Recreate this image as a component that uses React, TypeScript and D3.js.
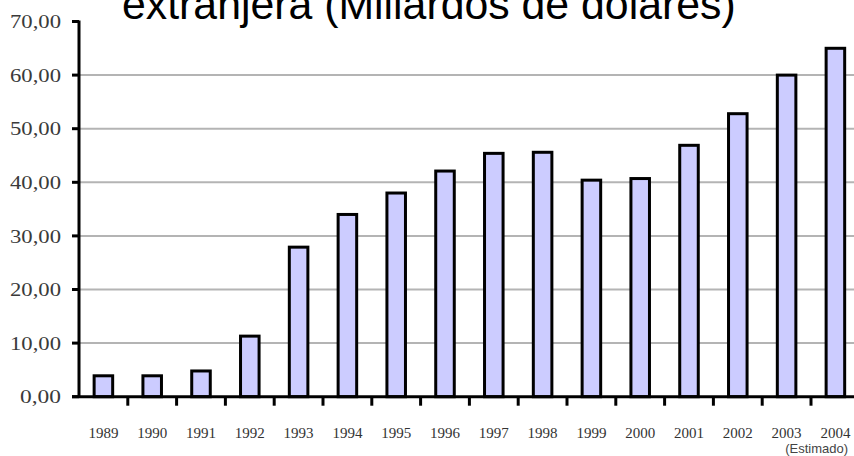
import React from "react";
import * as d3 from "d3";

const years = ["1989","1990","1991","1992","1993","1994","1995","1996","1997","1998","1999","2000","2001","2002","2003","2004"];
const values = [3.9, 3.9, 4.8, 11.3, 27.9, 34.0, 38.0, 42.1, 45.4, 45.6, 40.4, 40.7, 46.9, 52.8, 60.0, 65.0];
const yTicks = [0, 10, 20, 30, 40, 50, 60, 70];
const title = "extranjera (Millardos de dólares)";
const note = "(Estimado)";

const W = 854, H = 456;
const left = 79, zeroY = 396.7, topY = 21.5;
const serif = "'Liberation Serif', 'Times New Roman', serif";

export default function App() {
  const y = d3.scaleLinear().domain([0, 70]).range([zeroY, topY]);
  const x = d3.scaleBand<string>().domain(years).range([left, left + 16 * 48.8]).paddingInner(0.62).paddingOuter(0.31);
  const step = x.step();
  const fmt = (v: number) => v.toFixed(2).replace(".", ",");
  return (
    <div style={{ position: "absolute", left: 0, top: 0 }}>
      <svg width={W} height={H} style={{ display: "block", background: "#fff" }}>
        {yTicks.filter(t => t > 0 && t < 70).map(t => (
          <line key={"g" + t} x1={left} x2={W} y1={y(t)} y2={y(t)} stroke="#b4b4b4" strokeWidth={2} />
        ))}
        {years.map((yr, i) => (
          <rect key={yr} x={x(yr)!} y={y(values[i])} width={x.bandwidth()} height={zeroY - y(values[i])}
            fill="#ccccff" stroke="#000" strokeWidth={3} />
        ))}
        <line x1={left} x2={left} y1={topY - 1} y2={zeroY} stroke="#000" strokeWidth={3} />
        <line x1={72} x2={W} y1={zeroY} y2={zeroY} stroke="#000" strokeWidth={3} />
        {yTicks.map(t => (
          <g key={"t" + t}>
            <line x1={72} x2={left} y1={y(t)} y2={y(t)} stroke="#000" strokeWidth={3} />
            <text x={61} y={y(t)} dy="0.35em" textAnchor="end" fontFamily={serif} fontSize={19}
              textLength={t < 10 ? 41 : 51} lengthAdjust="spacingAndGlyphs" fill="#3a3a3a">{fmt(t)}</text>
          </g>
        ))}
        {years.slice(1).map((yr) => (
          <line key={"bt" + yr} x1={x(yr)! - (step - x.bandwidth()) / 2} x2={x(yr)! - (step - x.bandwidth()) / 2} y1={zeroY} y2={zeroY + 9} stroke="#000" strokeWidth={3} />
        ))}
        {years.map(yr => (
          <text key={"l" + yr} x={x(yr)! + x.bandwidth() / 2} y={437.5} textAnchor="middle" fontFamily={serif} fontSize={15} fill="#333">{yr}</text>
        ))}
        <text x={848} y={453} textAnchor="end" fontFamily="'Liberation Sans', Arial, sans-serif" fontSize={13} fill="#444">{note}</text>
        <text x={122} y={19} fontFamily="'Liberation Sans', Arial, sans-serif" fontSize={42.8} fill="#000">{title}</text>
      </svg>
    </div>
  );
}
